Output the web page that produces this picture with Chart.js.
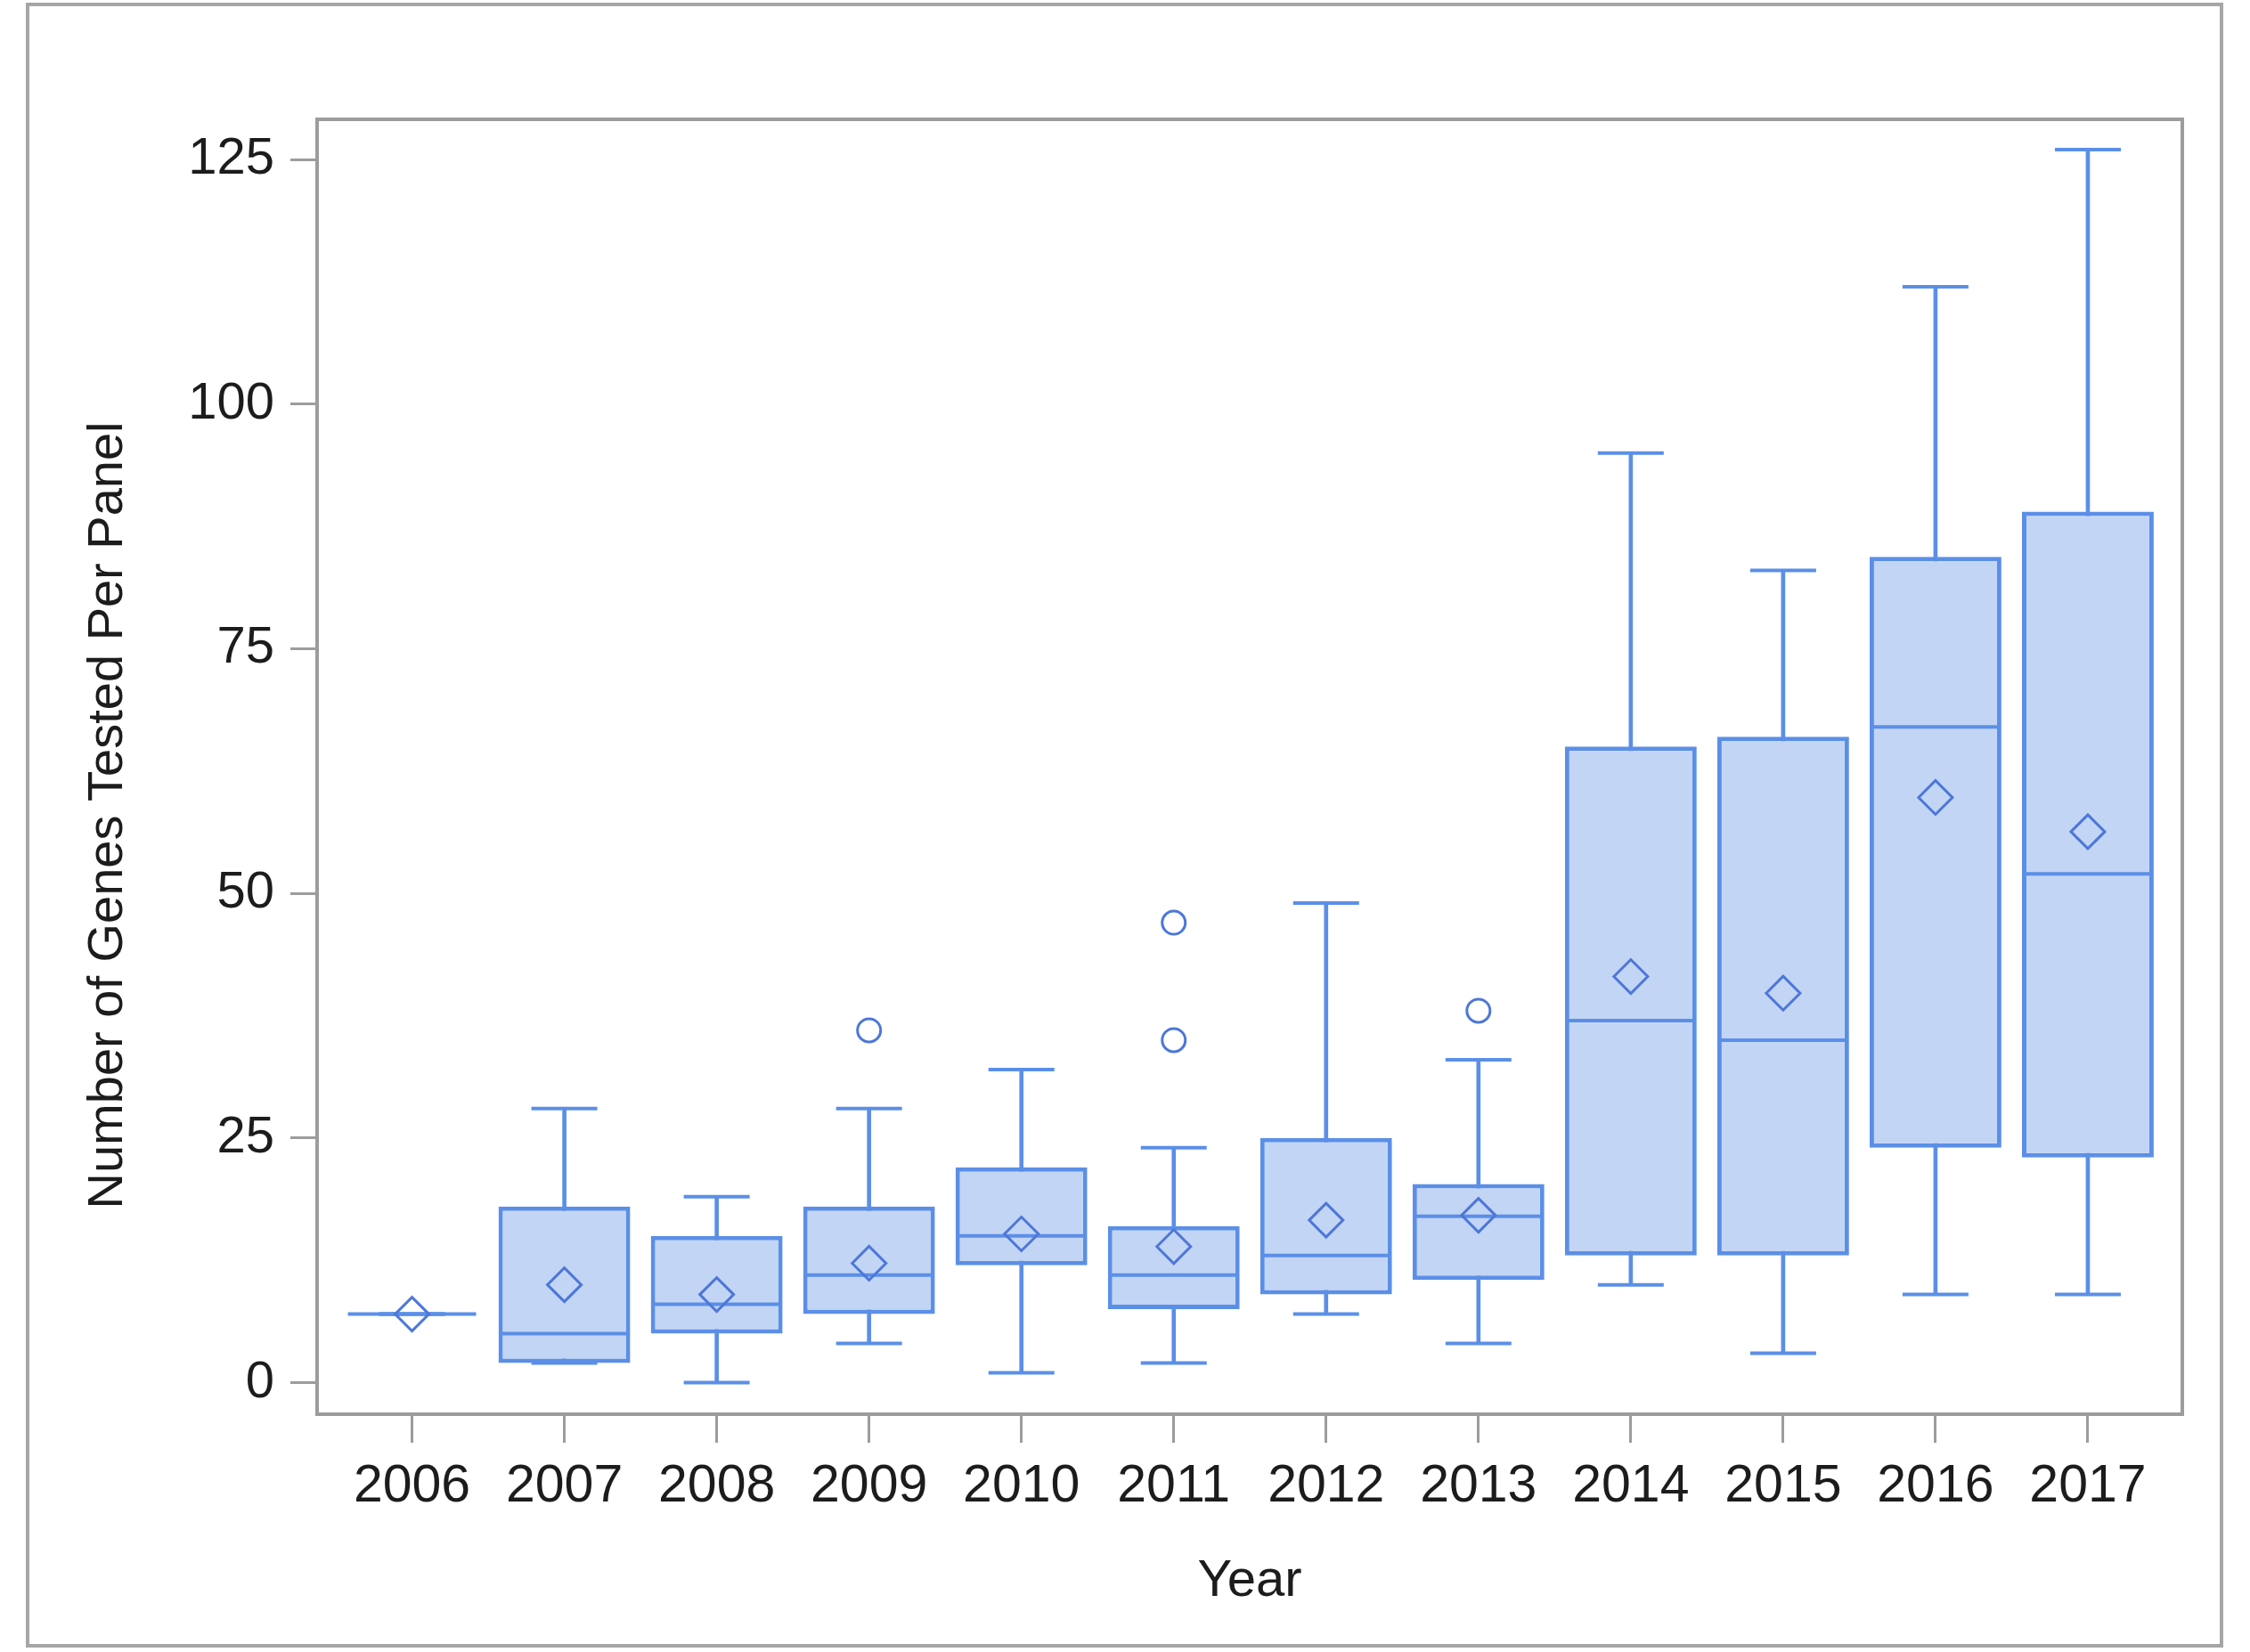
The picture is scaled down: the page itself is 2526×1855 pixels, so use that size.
<!DOCTYPE html>
<html lang="en">
<head>
    <meta charset="UTF-8">
    <title>Number of Genes Tested Per Panel by Year</title>
    <script src="https://cdn.jsdelivr.net/npm/chart.js"></script>
    <style>
        html, body { margin: 0; padding: 0; background: #fff; }
        #wrap { position: relative; width: 2526px; height: 1855px; }
        #frame {
            position: absolute; left: 29px; top: 3px; width: 2467px; height: 1847px;
            box-sizing: border-box; border: 4px solid #a6a6a6; pointer-events: none;
        }
    </style>
</head>
<body>
    <div id="wrap">
        <canvas id="boxChart"></canvas>
        <div id="frame"></div>
    </div>

    <script>
        // box plot summary per year
        const years = ["2006", "2007", "2008", "2009", "2010", "2011", "2012", "2013", "2014", "2015", "2016", "2017"];
        const minVals = [7, 2, 0, 4, 1, 2, 7, 4, 10, 3, 9, 9];
        const q1Vals = [7, 2, 5, 7, 12, 7.5, 9, 10.5, 13, 13, 24, 23];
        const medianVals = [7, 5, 8, 11, 15, 11, 13, 17, 37, 35, 67, 52];
        const q3Vals = [7, 18, 15, 18, 22, 16, 25, 20.3, 65, 66, 84.4, 89];
        const maxVals = [7, 28, 19, 28, 32, 24, 49, 33, 95, 83, 112, 126];
        const meanVals = [7, 10, 9, 12.2, 15.2, 13.9, 16.6, 17.1, 41.5, 39.8, 59.8, 56.3];
        const outlierYears = ["2009", "2011", "2011", "2013"];
        const outlierVals = [36, 47, 35, 38];
        const yTicks = [0, 25, 50, 75, 100, 125];

        const lineBlue = "#5b8fe7";
        const markBlue = "#4d77d8";
        const boxFill = "#c3d5f4";
        const axisGray = "#9c9c9c";
        const textColor = "#1c1c1c";
        const fontFamily = "'Liberation Sans', Arial, sans-serif";

        const idx = years.map((y, i) => i);

        // frame round the plot area
        const plotFrame = {
            id: "plotFrame",
            beforeDatasetsDraw(chart) {
                const a = chart.chartArea;
                const ctx = chart.ctx;
                ctx.save();
                ctx.strokeStyle = axisGray;
                ctx.lineWidth = 4;
                ctx.strokeRect(a.left, a.top, a.right - a.left, a.bottom - a.top);
                ctx.restore();
            }
        };

        const ctx = document.getElementById("boxChart").getContext("2d");
        const chart = new Chart(ctx, {
            type: "bar",
            data: {
                datasets: [
                    {
                        label: "whisker",
                        data: idx.map(i => ({ x: i, y: [minVals[i], maxVals[i]] })),
                        backgroundColor: lineBlue,
                        borderWidth: 0,
                        barThickness: 4,
                        grouped: false,
                        order: 6
                    },
                    {
                        label: "box",
                        data: idx.map(i => ({ x: i, y: [q1Vals[i], q3Vals[i]] })),
                        backgroundColor: boxFill,
                        borderColor: lineBlue,
                        borderWidth: 5,
                        borderSkipped: false,
                        categoryPercentage: 1,
                        barPercentage: 0.865,
                        grouped: false,
                        order: 5
                    },
                    {
                        type: "line",
                        label: "caps",
                        data: idx.flatMap(i => [{ x: i, y: minVals[i] }, { x: i, y: maxVals[i] }]),
                        showLine: false,
                        pointStyle: "line",
                        pointRadius: 37,
                        pointBorderWidth: 4,
                        pointBorderColor: lineBlue,
                        order: 4
                    },
                    {
                        type: "line",
                        label: "median",
                        data: idx.map(i => ({ x: i, y: medianVals[i] })),
                        showLine: false,
                        pointStyle: "line",
                        pointRadius: 72,
                        pointBorderWidth: 4,
                        pointBorderColor: lineBlue,
                        order: 3
                    },
                    {
                        type: "line",
                        label: "mean",
                        data: idx.map(i => ({ x: i, y: meanVals[i] })),
                        showLine: false,
                        pointStyle: "rectRot",
                        pointRadius: 19,
                        pointBorderWidth: 3,
                        pointBorderColor: markBlue,
                        pointBackgroundColor: "rgba(0,0,0,0)",
                        order: 2
                    },
                    {
                        type: "line",
                        label: "outliers",
                        data: outlierYears.map((y, k) => ({ x: years.indexOf(y), y: outlierVals[k] })),
                        showLine: false,
                        pointStyle: "circle",
                        pointRadius: 13,
                        pointBorderWidth: 3,
                        pointBorderColor: markBlue,
                        pointBackgroundColor: "rgba(0,0,0,0)",
                        order: 1
                    }
                ]
            },
            options: {
                responsive: true,
                maintainAspectRatio: false,
                animation: false,
                layout: { padding: { top: 134, right: 75, bottom: 0, left: 0 } },
                plugins: {
                    legend: { display: false },
                    tooltip: { enabled: false }
                },
                scales: {
                    x: {
                        type: "linear",
                        offset: false,
                        min: -0.623,
                        max: 11.62,
                        afterBuildTicks: scale => { scale.ticks = idx.map(i => ({ value: i })); },
                        afterFit: scale => { scale.height = 267; },
                        ticks: {
                            callback: v => years[v],
                            color: textColor,
                            font: { family: fontFamily, size: 59 },
                            padding: 14,
                            maxRotation: 0,
                            autoSkip: false
                        },
                        grid: { offset: false, drawOnChartArea: false, tickLength: 32, color: axisGray, lineWidth: 3 },
                        border: { display: false },
                        title: {
                            display: true,
                            text: "Year",
                            color: textColor,
                            font: { family: fontFamily, size: 58 },
                            padding: { top: 0, bottom: 44 }
                        }
                    },
                    y: {
                        min: -3.23,
                        max: 129.1,
                        afterBuildTicks: scale => { scale.ticks = yTicks.map(v => ({ value: v })); },
                        afterFit: scale => { scale.width = 356; },
                        ticks: {
                            color: textColor,
                            font: { family: fontFamily, size: 58 },
                            padding: 18
                        },
                        grid: { drawOnChartArea: false, tickLength: 30, color: axisGray, lineWidth: 3 },
                        border: { display: false },
                        title: {
                            display: true,
                            // trailing spaces push the label a little below the axis centre, as in the figure
                            text: "Number of Genes Tested Per Panel       ",
                            color: textColor,
                            font: { family: fontFamily, size: 56 },
                            padding: { top: 88, bottom: 0 }
                        }
                    }
                }
            },
            plugins: [plotFrame]
        });
    </script>
</body>
</html>
